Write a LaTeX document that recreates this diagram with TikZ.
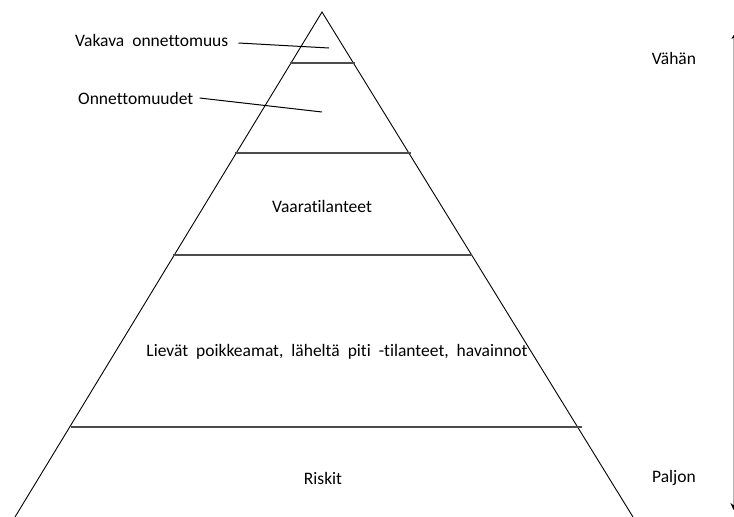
\documentclass[tikz,border=0pt]{standalone}
\usepackage{fontspec}
\setmainfont{Carlito}[Ligatures={NoCommon}]
\usetikzlibrary{arrows.meta}
\begin{document}
\begin{tikzpicture}[x=1pt,y=-1pt,
  lbl/.style={inner sep=0pt,font=\fontsize{17.5}{20}\selectfont},
  widegap/.style={execute at begin node={\spaceskip=8pt\relax}},
  edge/.style={black,line width=0.9pt},
  level/.style={black!70,line width=1.3pt},
  leader/.style={black,line width=1pt},
  scalearrow/.style={black!30,line width=0.7pt,{Stealth[length=7pt,width=6pt,black]}-{Stealth[length=4pt,width=4pt,black]}}]
  \useasboundingbox[fill=white] (0,0) rectangle (734,517);

  % pyramid outline
  \coordinate (apex) at (322,12);
  \coordinate (bl) at (15,517);
  \coordinate (br) at (633,517);
  \draw[edge] (bl) -- (apex) -- (br);

  % level separators
  \coordinate (l1a) at (290,63);  \coordinate (l1b) at (355,63);
  \coordinate (l2a) at (235,153); \coordinate (l2b) at (411,153);
  \coordinate (l3a) at (173,255); \coordinate (l3b) at (472,255);
  \coordinate (l4a) at (71,427);  \coordinate (l4b) at (582,427);
  \draw[level] (l1a) -- (l1b);
  \draw[level] (l2a) -- (l2b);
  \draw[level] (l3a) -- (l3b);
  \draw[level] (l4a) -- (l4b);

  % labels with leaders
  \node[lbl,widegap,anchor=west] (vakava) at (75,40) {Vakava onnettomuus};
  \coordinate (vakavaend) at (329,48);
  \draw[leader] ([xshift=10pt,yshift=-3pt]vakava.east) -- (vakavaend);

  \node[lbl,anchor=west] (onn) at (78,98) {Onnettomuudet};
  \coordinate (onnend) at (322,112);
  \draw[leader] ([xshift=6pt]onn.east) -- (onnend);

  % level labels
  \node[lbl] (vaara) at (322,206) {Vaaratilanteet};
  \node[lbl,widegap] (lievat) at (337,352) {Lievät poikkeamat, läheltä piti -tilanteet, havainnot};
  \node[lbl] (riskit) at (323,478) {Riskit};

  % frequency scale
  \node[lbl] (vahan) at (674,58) {Vähän};
  \node[lbl] (paljon) at (674,478) {Paljon};
  \coordinate (stop) at (733.5,35);
  \coordinate (sbot) at (733.5,510);
  \draw[scalearrow] (sbot) -- (stop);
\end{tikzpicture}
\end{document}
